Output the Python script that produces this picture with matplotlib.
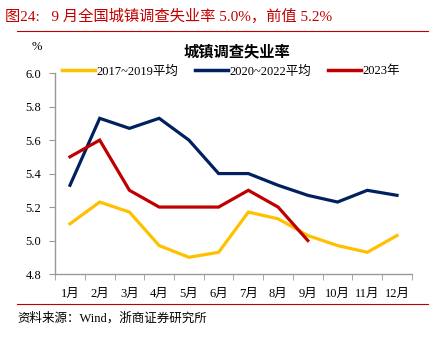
import matplotlib.pyplot as plt
from matplotlib.lines import Line2D

plt.rcParams['font.family'] = ['Liberation Serif', 'Noto Sans CJK SC', 'DejaVu Sans']

months = ["1月", "2月", "3月", "4月", "5月", "6月", "7月", "8月", "9月", "10月", "11月", "12月"]
avg_2017_2019 = [5.10, 5.23, 5.17, 4.97, 4.90, 4.93, 5.17, 5.13, 5.03, 4.97, 4.93, 5.03]
avg_2020_2022 = [5.33, 5.73, 5.67, 5.73, 5.60, 5.40, 5.40, 5.33, 5.27, 5.23, 5.30, 5.27]
y2023 = [5.5, 5.6, 5.3, 5.2, 5.2, 5.2, 5.3, 5.2, 5.0]
series_names = ["2017~2019平均", "2020~2022平均", "2023年"]
colors = ["#FFC000", "#002060", "#C00000"]

fig = plt.figure(figsize=(4.34, 3.4), dpi=100)
ax = fig.add_axes([0.127, 0.194, 0.822, 0.591])

x = list(range(len(months)))
ax.plot(x, avg_2017_2019, color=colors[0], lw=2.3, solid_joinstyle="miter")
ax.plot(x, avg_2020_2022, color=colors[1], lw=2.3, solid_joinstyle="miter")
ax.plot(x[:len(y2023)], y2023, color=colors[2], lw=2.3, solid_joinstyle="miter")

ax.set_xlim(-0.5, 11.5)
ax.set_ylim(4.8, 6.0)
yt = [4.8, 5.0, 5.2, 5.4, 5.6, 5.8, 6.0]
ax.set_yticks(yt)
ax.set_yticklabels([f"{v:.1f}" for v in yt], fontsize=9)
ax.set_xticks(x)
ax.set_xticklabels(months, fontsize=9)
ax.set_xticks([i - 0.5 for i in range(13)], minor=True)
ax.tick_params(axis="x", which="major", length=0, pad=10)
ax.tick_params(axis="x", which="minor", length=4, color="#999999")
ax.tick_params(axis="y", length=4, color="#999999", pad=6)
for s in ["top", "right"]:
    ax.spines[s].set_visible(False)
for s in ["left", "bottom"]:
    ax.spines[s].set_color("#999999")
    ax.spines[s].set_linewidth(1)

handles = [Line2D([], [], color=c, lw=2.5) for c in colors]
fig.legend(handles, series_names, loc="center", bbox_to_anchor=(0.532, 0.79), ncol=3,
           frameon=False, fontsize=9, handlelength=2.7, handletextpad=0.1, columnspacing=1.3)

fig.text(0.545, 0.847, "城镇调查失业率", ha="center", va="center", fontsize=11, fontweight="bold")
fig.text(0.085, 0.862, "%", ha="center", va="center", fontsize=9)

fig.text(0.012, 0.953, "图24:   9 月全国城镇调查失业率 5.0%，前值 5.2%", ha="left", va="center",
         fontsize=11, color="#C00000")
fig.add_artist(Line2D([0.04, 0.987], [0.91, 0.91], color="#C00000", lw=0.8))
fig.add_artist(Line2D([0.04, 0.987], [0.105, 0.105], color="#C00000", lw=0.8))
fig.text(0.04, 0.062, "资料来源：Wind，浙商证券研究所", ha="left", va="center", fontsize=9)

fig.savefig("out.png", dpi=100)
